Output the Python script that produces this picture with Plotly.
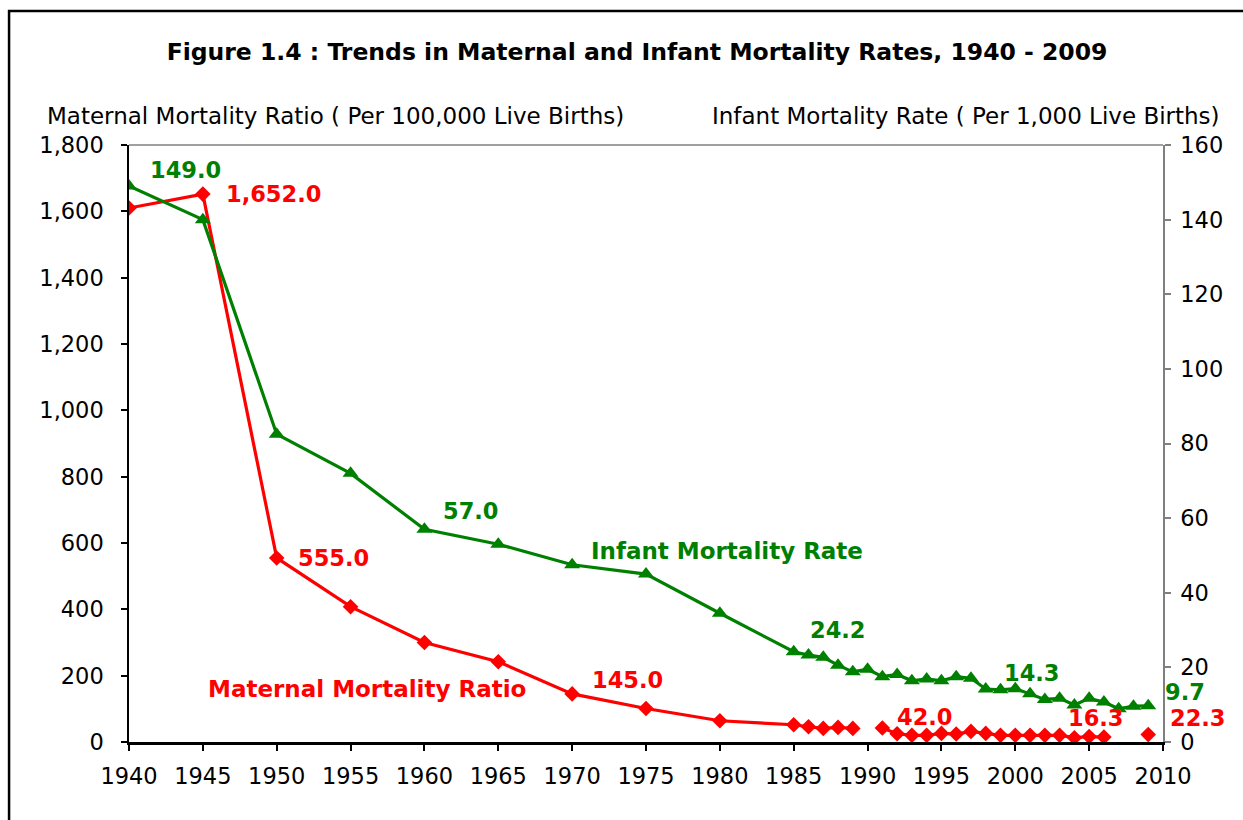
import plotly.graph_objects as go

years = [1940, 1945, 1950, 1955, 1960, 1965, 1970, 1975, 1980, 1985,
         1986, 1987, 1988, 1989, 1990, 1991, 1992, 1993, 1994, 1995,
         1996, 1997, 1998, 1999, 2000, 2001, 2002, 2003, 2004, 2005,
         2006, 2007, 2008, 2009]

mmr = [1610, 1652, 555, 408, 300, 242, 145, 101, 64, 52,
       46, 41, 44, 41, None, 42, 25, 20, 20, 26,
       24, 32, 26, 20, 20, 20, 20, 20, 13, 16.3,
       15, None, None, 22.3]

imr = [149.0, 140, 82.5, 72, 57.0, 53, 47.5, 45, 34.5, 24.2,
       23.3, 22.7, 20.6, 18.8, 19.5, 17.5, 18.1, 16.4, 16.9, 16.4,
       17.5, 17.1, 14.2, 14.0, 14.3, 12.9, 11.4, 11.7, 9.9, 11.7,
       10.7, 8.9, 9.6, 9.7]

x_ticks = list(range(1940, 2011, 5))
left_ticks = list(range(0, 1801, 200))
right_ticks = list(range(0, 161, 20))

# data labels: (year, value, text, xshift, yshift)
mmr_labels = [(1945, 1652, "1,652.0", 21, 0), (1950, 555, "555.0", 19, 0),
              (1970, 145, "145.0", 18, 14), (1991, 42, "42.0", 13, 11),
              (2005, 16.3, "16.3", -23, 19), (2009, 22.3, "22.3", 20, 17)]
imr_labels = [(1940, 149.0, "149.0", 19, 16), (1960, 57.0, "57.0", 17, 18),
              (1985, 24.2, "24.2", 14, 22), (2000, 14.3, "14.3", -13, 16),
              (2009, 9.7, "9.7", 15, 14)]

RED = "#FF0000"
GREEN = "#008000"
FONT = "DejaVu Sans"

fig = go.Figure()
fig.add_trace(go.Scatter(x=years, y=mmr, mode="lines+markers", name="Maternal Mortality Ratio",
                         line=dict(color=RED, width=3.2),
                         marker=dict(symbol="diamond", size=12, color=RED),
                         connectgaps=False, yaxis="y"))
fig.add_trace(go.Scatter(x=years, y=imr, mode="lines+markers", name="Infant Mortality Rate",
                         line=dict(color=GREEN, width=3.2),
                         marker=dict(symbol="triangle-up", size=14, color=GREEN),
                         yaxis="y2"))

annotations = []
for (yr, v, t, dx, dy) in mmr_labels:
    annotations.append(dict(x=yr, y=v, xref="x", yref="y", text=t, showarrow=False,
                            xanchor="left", yanchor="middle", xshift=dx, yshift=dy,
                            font=dict(family=FONT, size=22.5, color=RED, weight="bold")))
for (yr, v, t, dx, dy) in imr_labels:
    annotations.append(dict(x=yr, y=v, xref="x", yref="y2", text=t, showarrow=False,
                            xanchor="left", yanchor="middle", xshift=dx, yshift=dy,
                            font=dict(family=FONT, size=22.5, color=GREEN, weight="bold")))

annotations += [
    dict(x=0.5783, y=0.3199, xref="paper", yref="paper", text="Infant Mortality Rate",
         showarrow=False, xanchor="center", yanchor="middle",
         font=dict(family=FONT, size=23, color=GREEN, weight="bold")),
    dict(x=0.2302, y=0.0888, xref="paper", yref="paper", text="Maternal Mortality Ratio",
         showarrow=False, xanchor="center", yanchor="middle",
         font=dict(family=FONT, size=23, color=RED, weight="bold")),
    dict(x=-0.0812, y=1.0486, xref="paper", yref="paper",
         text="Maternal Mortality Ratio ( Per 100,000 Live Births)",
         showarrow=False, xanchor="left", yanchor="middle",
         font=dict(family=FONT, size=23, color="black")),
    dict(x=1.057, y=1.0486, xref="paper", yref="paper",
         text="Infant Mortality Rate ( Per 1,000 Live Births)",
         showarrow=False, xanchor="right", yanchor="middle",
         font=dict(family=FONT, size=23, color="black")),
]

shapes = [
    # outer chart frame
    dict(type="rect", xref="paper", yref="paper", x0=-0.116, x1=1.3, y0=-0.3, y1=1.2245,
         line=dict(color="black", width=2.5), fillcolor="rgba(0,0,0,0)", layer="below"),
    # plot-area top border
    dict(type="line", xref="paper", yref="paper", x0=0, x1=1, y0=1, y1=1,
         line=dict(color="#808080", width=1.5)),
]

fig.update_layout(
    width=1243, height=820,
    margin=dict(l=129, r=80, t=145, b=78, pad=0),
    paper_bgcolor="white", plot_bgcolor="white",
    showlegend=False,
    title=dict(text="Figure 1.4 : Trends in Maternal and Infant Mortality Rates, 1940 - 2009",
               x=637/1243, xanchor="center", y=1-52/820, yanchor="middle",
               font=dict(family=FONT, size=23.5, color="black", weight="bold")),
    xaxis=dict(range=[1940, 2010], tickmode="array", tickvals=x_ticks,
               ticks="outside", ticklen=6, tickcolor="black", tickwidth=1.5,
               showline=True, linecolor="black", linewidth=2.5,
               showgrid=False, zeroline=False, ticklabelstandoff=6,
               tickfont=dict(family=FONT, size=22.5, color="black")),
    yaxis=dict(range=[0, 1800], tickmode="array", tickvals=left_ticks, tickformat=",",
               ticks="outside", ticklen=6, tickcolor="black", tickwidth=1.5,
               showline=True, linecolor="black", linewidth=1.5,
               showgrid=False, zeroline=False, ticklabelstandoff=13,
               tickfont=dict(family=FONT, size=22.5, color="black")),
    yaxis2=dict(range=[0, 160], tickmode="array", tickvals=right_ticks,
                overlaying="y", side="right", anchor="x",
                ticks="outside", ticklen=6, tickcolor="#808080", tickwidth=1.5,
                showline=True, linecolor="#808080", linewidth=1.5,
                showgrid=False, zeroline=False, ticklabelstandoff=5,
                tickfont=dict(family=FONT, size=22.5, color="black")),
    annotations=annotations,
    shapes=shapes,
)

fig.write_html("out.html", config={"displayModeBar": False},
               post_script="document.body.style.margin='0';document.body.style.overflow='hidden';")
